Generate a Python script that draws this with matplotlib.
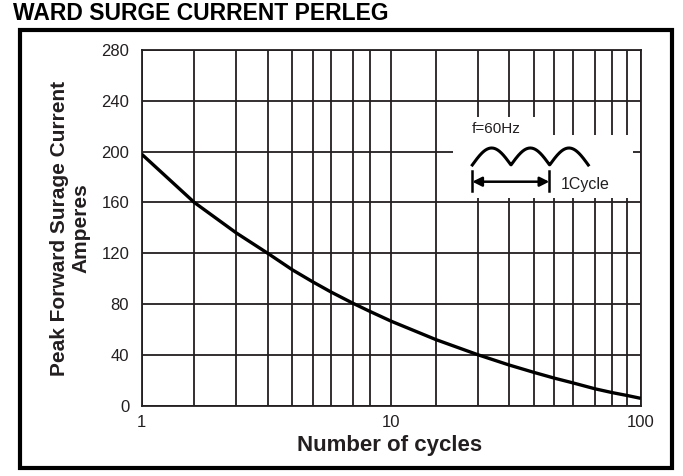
import numpy as np
import matplotlib.pyplot as plt
from matplotlib.patches import Rectangle
from matplotlib.ticker import NullFormatter

# values
cycles = [1, 1.625, 2.394, 3.199, 4.014, 4.848, 5.738, 7.048, 8.222, 10,
          15.12, 22.34, 29.73, 37.36, 45.05, 53.41, 65.6, 76.9, 88.4, 100]
current = [198, 160, 136, 120, 107, 97.5, 89.5, 80.5, 74.2, 66.5,
           52, 40, 32, 26.2, 21.7, 18, 13.3, 10.3, 8, 5.8]

# grid lines as drawn on the sheet (not evenly log spaced)
grid_x = [1.625, 2.394, 3.199, 4.014, 4.848, 5.738, 7.048, 8.222,
          15.12, 22.34, 29.73, 37.36, 45.05, 53.41, 65.6, 76.9, 88.4]
major_x = [1, 10, 100]
major_x_labels = ['1', '10', '100']
y_ticks = [0, 40, 80, 120, 160, 200, 240, 280]

ink = '#231f20'
plt.rcParams['font.family'] = ['Liberation Sans', 'DejaVu Sans']

W, H = 683, 476
fig = plt.figure(figsize=(W / 100, H / 100), dpi=100)

L, R, T, B = 141.7, 640.7, 50, 405.7
ax = fig.add_axes([L / W, 1 - B / H, (R - L) / W, (B - T) / H])
ax.set_xscale('log')
ax.set_xlim(1, 100)
ax.set_ylim(0, 280)
ax.set_xticks(major_x)
ax.set_xticklabels(major_x_labels)
ax.set_xticks(grid_x, minor=True)
ax.xaxis.set_minor_formatter(NullFormatter())
ax.set_yticks(y_ticks)
ax.grid(True, which='both', axis='x', color=ink, lw=1.3)
ax.grid(True, which='major', axis='y', color=ink, lw=1.3)
ax.tick_params(which='both', length=0, labelsize=12, labelcolor=ink)
ax.tick_params(axis='y', pad=9)
ax.tick_params(axis='x', pad=7)
for s in ax.spines.values():
    s.set_color(ink)
    s.set_linewidth(1.3)

ax.plot(cycles, current, color='black', lw=2.4, solid_capstyle='butt',
        solid_joinstyle='round', zorder=3)

# overlay in pixel units for frame, titles and the little waveform sketch
ov = fig.add_axes([0, 0, 1, 1], zorder=5)
ov.set_xlim(0, W)
ov.set_ylim(H, 0)
ov.axis('off')
ov.patch.set_visible(False)

ov.add_patch(Rectangle((20, 30), 652, 438, fill=False, lw=3, ec='black'))
ov.text(13, 20, 'WARD SURGE CURRENT PERLEG', fontsize=16.5, fontweight='bold',
        va='baseline', ha='left')
ov.text(70, 228, 'Peak Forward Surage Current\nAmperes', rotation=90,
        ha='center', va='center', fontsize=15, fontweight='bold',
        multialignment='center', linespacing=1.15, color=ink)
ov.text(390, 445, 'Number of cycles', ha='center', va='center',
        fontsize=16, fontweight='bold', color=ink)

# white boxes hiding the grid behind the sketch
ov.add_patch(Rectangle((452.7, 117), 92, 81, fc='white', ec='none'))
ov.add_patch(Rectangle((544, 135), 89, 63, fc='white', ec='none'))

ov.text(472, 133, 'f=60Hz', fontsize=11, ha='left', va='baseline', color=ink)
t = np.linspace(0, 3 * np.pi, 300)
ov.plot(472.3 + t / (3 * np.pi) * 116, 165 - 17 * np.abs(np.sin(t)),
        color='black', lw=2.2)
ov.plot([472.3, 472.3], [171, 191], color='black', lw=1.8)
ov.plot([549.3, 549.3], [171, 191], color='black', lw=1.8)
ov.annotate('', xy=(472.3, 181.7), xytext=(549.3, 181.7),
            arrowprops=dict(arrowstyle='<|-|>', color='black', lw=1.8,
                            mutation_scale=14, shrinkA=0, shrinkB=0))
ov.text(561, 189, '1Cycle', fontsize=11.5, ha='left', va='baseline', color=ink)

fig.savefig('out.png', dpi=100)
